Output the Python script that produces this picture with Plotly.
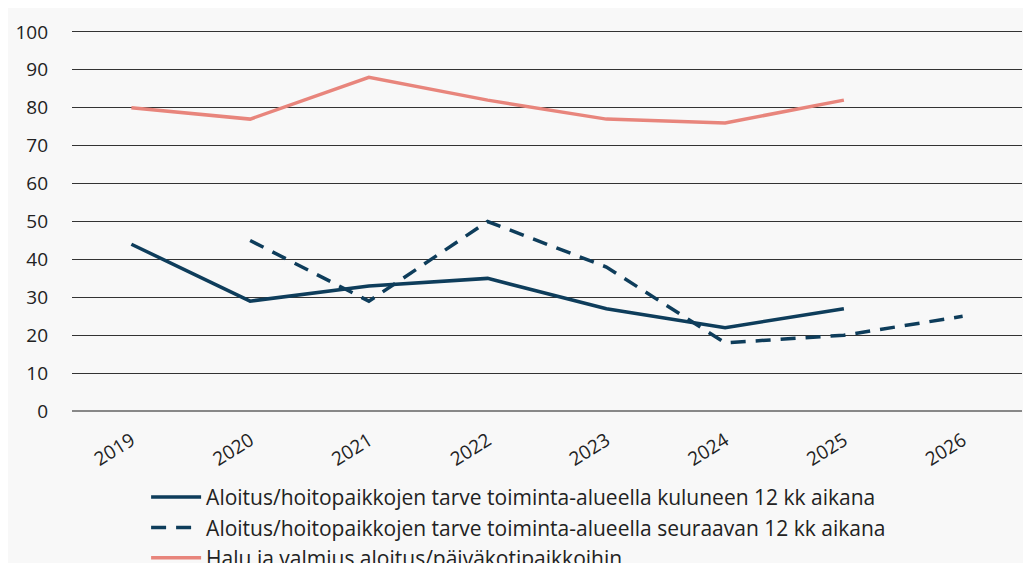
import plotly.graph_objects as go

years = ["2019", "2020", "2021", "2022", "2023", "2024", "2025", "2026"]
kuluneen = [44, 29, 33, 35, 27, 22, 27, None]
seuraavan = [None, 45, 29, 50, 38, 18, 20, 25]
halu = [80, 77, 88, 82, 77, 76, 82, None]

names = [
    "Aloitus/hoitopaikkojen tarve toiminta-alueella kuluneen 12 kk aikana",
    "Aloitus/hoitopaikkojen tarve toiminta-alueella seuraavan 12 kk aikana",
    "Halu ja valmius aloitus/päiväkotipaikkoihin",
]

navy = "#0e3d5b"
pink = "#e8857c"

fig = go.Figure()
fig.add_trace(go.Scatter(x=years, y=kuluneen, name=names[0], mode="lines",
                         line=dict(color=navy, width=3.5)))
fig.add_trace(go.Scatter(x=years, y=seuraavan, name=names[1], mode="lines",
                         line=dict(color=navy, width=3.5, dash="15px,10px")))
fig.add_trace(go.Scatter(x=years, y=halu, name=names[2], mode="lines",
                         line=dict(color=pink, width=3.5)))

# page body adds an 8px white border, so the grey paper acts as the card;
# the figure is a bit taller than the window so the legend's last row gets cut like the original
fig.update_layout(
    width=1031, height=620,
    margin=dict(l=64, r=17, t=22, b=215),
    paper_bgcolor="#f8f8f8",
    plot_bgcolor="#f8f8f8",
    font=dict(family="Open Sans, Liberation Sans, sans-serif", size=19, color="#222"),
    showlegend=True,
    legend=dict(orientation="v", x=0.078, y=-0.167, xanchor="left", yanchor="top",
                bgcolor="rgba(0,0,0,0)", font=dict(size=21, color="#222"),
                tracegroupgap=0, itemwidth=50),
)
fig.update_xaxes(type="category", range=[-0.5, 7.5], showgrid=False, showline=False,
                 automargin=False, ticks="", tickangle=-32, ticklabelstandoff=12,
                 tickfont=dict(size=19))
fig.update_yaxes(range=[-0.5, 100.5], tickvals=list(range(0, 101, 10)),
                 showgrid=True, gridcolor="#333", gridwidth=1,
                 zeroline=True, zerolinecolor="#888", zerolinewidth=2,
                 automargin=False, showline=False, ticks="", ticklabelstandoff=23,
                 tickfont=dict(size=19))

fig.write_html("out.html")
